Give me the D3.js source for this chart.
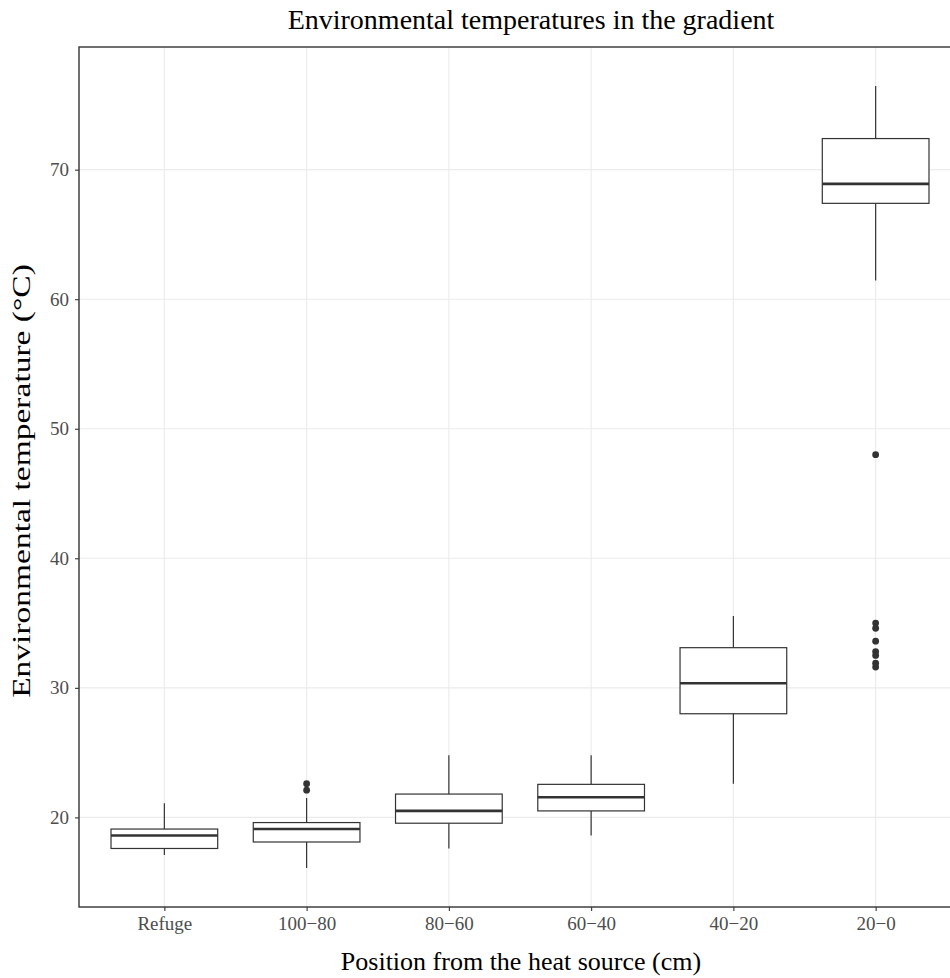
<!DOCTYPE html>
<html>
<head>
<meta charset="utf-8">
<script src="https://cdn.jsdelivr.net/npm/d3@7"></script>
<style>
  html, body { margin: 0; padding: 0; background: #fff; }
  svg { display: block; }
  text { font-family: "Liberation Serif", "Times New Roman", serif; }
</style>
</head>
<body>
<svg id="chart" width="950" height="978"></svg>
<script>
// Temperature summaries per position along the gradient
const categories = ["Refuge", "100\u221280", "80\u221260", "60\u221240", "40\u221220", "20\u22120"];
const whiskerLow  = [17.1, 16.1, 17.6, 18.6, 22.6, 61.45];
const q1          = [17.6, 18.1, 19.55, 20.5, 28.0, 67.4];
const medians     = [18.6, 19.1, 20.5, 21.55, 30.35, 68.9];
const q3          = [19.1, 19.6, 21.8, 22.55, 33.1, 72.4];
const whiskerHigh = [21.1, 21.5, 24.8, 24.8, 35.55, 76.45];
const outlierCategory = ["100\u221280", "100\u221280", "20\u22120", "20\u22120", "20\u22120", "20\u22120", "20\u22120", "20\u22120", "20\u22120", "20\u22120"];
const outlierValue    = [22.1, 22.6, 48.0, 35.0, 34.6, 33.6, 32.8, 32.5, 31.9, 31.6];
const yTicks = [20, 30, 40, 50, 60, 70];

const svg = d3.select("#chart");
const panel = { left: 79, top: 47, right: 961, bottom: 907 };

const x = d3.scalePoint()
  .domain(categories)
  .range([panel.left, panel.right])
  .padding(0.6);

const allVals = whiskerLow.concat(whiskerHigh, outlierValue);
const lo = d3.min(allVals), hi = d3.max(allVals);
const pad = (hi - lo) * 0.05;
const y = d3.scaleLinear()
  .domain([lo - pad, hi + pad])
  .range([panel.bottom, panel.top]);

const boxW = x.step() * 0.75;
const ink = "#333333";

// Panel background and grid
const g = svg.append("g");
g.append("rect")
  .attr("x", panel.left).attr("y", panel.top)
  .attr("width", panel.right - panel.left).attr("height", panel.bottom - panel.top)
  .attr("fill", "#fff");

g.selectAll("line.hgrid").data(yTicks).join("line")
  .attr("class", "hgrid")
  .attr("x1", panel.left).attr("x2", panel.right)
  .attr("y1", d => y(d)).attr("y2", d => y(d))
  .attr("stroke", "#EBEBEB").attr("stroke-width", 1.1);

g.selectAll("line.vgrid").data(categories).join("line")
  .attr("class", "vgrid")
  .attr("x1", d => x(d)).attr("x2", d => x(d))
  .attr("y1", panel.top).attr("y2", panel.bottom)
  .attr("stroke", "#EBEBEB").attr("stroke-width", 1.1);

// Boxplots
const boxes = categories.map((c, i) => ({
  c, lo: whiskerLow[i], q1: q1[i], med: medians[i], q3: q3[i], hi: whiskerHigh[i]
}));

const bg = g.selectAll("g.box").data(boxes).join("g").attr("class", "box");
bg.append("line")
  .attr("x1", d => x(d.c)).attr("x2", d => x(d.c))
  .attr("y1", d => y(d.hi)).attr("y2", d => y(d.q3))
  .attr("stroke", ink).attr("stroke-width", 1.2);
bg.append("line")
  .attr("x1", d => x(d.c)).attr("x2", d => x(d.c))
  .attr("y1", d => y(d.q1)).attr("y2", d => y(d.lo))
  .attr("stroke", ink).attr("stroke-width", 1.2);
bg.append("rect")
  .attr("x", d => x(d.c) - boxW / 2)
  .attr("y", d => y(d.q3))
  .attr("width", boxW)
  .attr("height", d => y(d.q1) - y(d.q3))
  .attr("fill", "#fff").attr("stroke", ink).attr("stroke-width", 1.2);
bg.append("line")
  .attr("x1", d => x(d.c) - boxW / 2).attr("x2", d => x(d.c) + boxW / 2)
  .attr("y1", d => y(d.med)).attr("y2", d => y(d.med))
  .attr("stroke", ink).attr("stroke-width", 2.6);

// Outliers
g.selectAll("circle.out").data(outlierValue.map((v, i) => ({ c: outlierCategory[i], v })))
  .join("circle")
  .attr("class", "out")
  .attr("cx", d => x(d.c)).attr("cy", d => y(d.v))
  .attr("r", 3.4)
  .attr("fill", ink);

// Panel border
g.append("rect")
  .attr("x", panel.left).attr("y", panel.top)
  .attr("width", panel.right - panel.left).attr("height", panel.bottom - panel.top)
  .attr("fill", "none").attr("stroke", ink).attr("stroke-width", 1.4);

// Axes
const yAxis = svg.append("g")
  .attr("transform", `translate(${panel.left},0)`)
  .call(d3.axisLeft(y).tickValues(yTicks).tickSize(4).tickPadding(6));
const xAxis = svg.append("g")
  .attr("transform", `translate(0,${panel.bottom})`)
  .call(d3.axisBottom(x).tickSize(4).tickPadding(6));
[yAxis, xAxis].forEach(a => {
  a.select(".domain").remove();
  a.selectAll(".tick line").attr("stroke", ink).attr("stroke-width", 1.1);
  a.selectAll(".tick text")
    .attr("fill", "#4D4D4D")
    .style("font-family", "'Liberation Serif', serif")
    .style("font-size", "19px");
});

// Titles
svg.append("text")
  .attr("x", 531).attr("y", 29)
  .attr("text-anchor", "middle")
  .style("font-size", "28px")
  .attr("fill", "#000")
  .text("Environmental temperatures in the gradient");

svg.append("text")
  .attr("x", 521).attr("y", 970)
  .attr("text-anchor", "middle")
  .style("font-size", "26px")
  .attr("fill", "#000")
  .text("Position from the heat source (cm)");

svg.append("text")
  .attr("transform", `translate(30,${(panel.top + panel.bottom) / 2 + 4}) rotate(-90) scale(1.34,1)`)
  .attr("text-anchor", "middle")
  .style("font-size", "25px")
  .attr("fill", "#000")
  .text("Environmental temperature (\u00B0C)");
</script>
</body>
</html>
